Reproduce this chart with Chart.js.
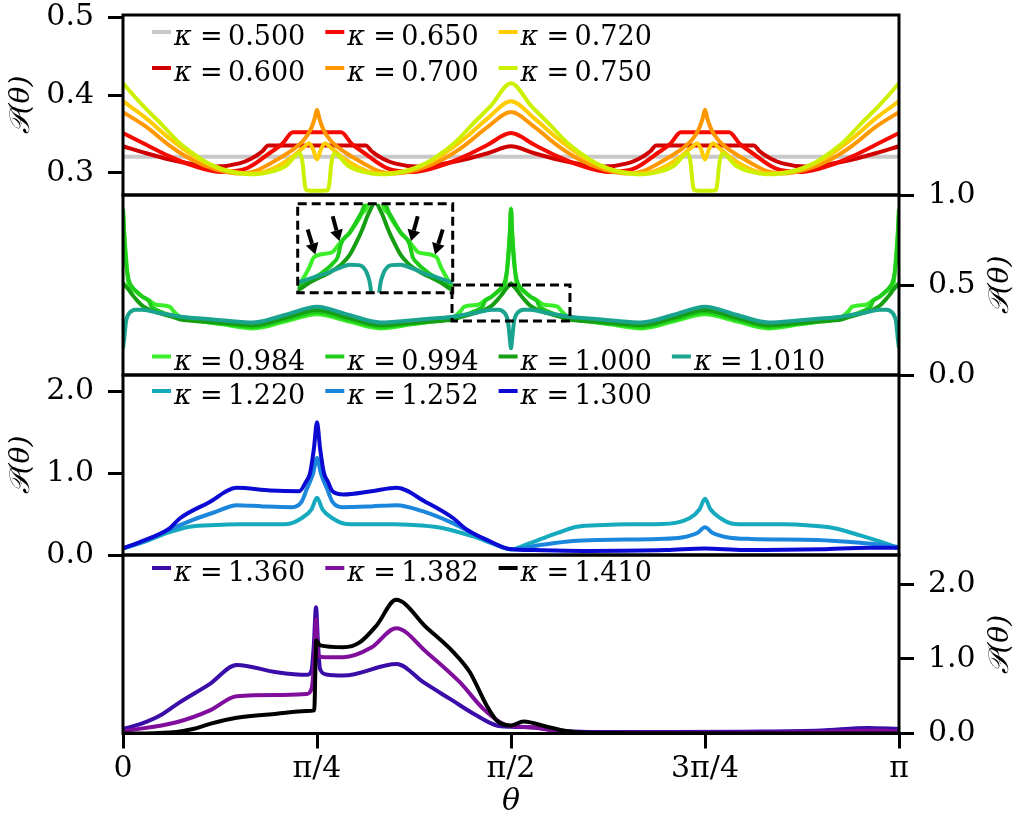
<!DOCTYPE html>
<html><head><meta charset="utf-8">
<script src="https://cdn.jsdelivr.net/npm/chart.js@4.4.1/dist/chart.umd.min.js"></script>
<style>
html,body{margin:0;padding:0;background:#fff;}
#wrap{position:relative;width:1021px;height:816px;overflow:hidden;}
canvas{position:absolute;left:0;top:0;}
</style></head><body><div id="wrap">
<canvas id="c1" width="1021" height="816"></canvas>
<canvas id="c2" width="1021" height="816"></canvas>
<canvas id="c3" width="1021" height="816"></canvas>
<canvas id="c4" width="1021" height="816"></canvas>
<canvas id="c5" width="1021" height="816"></canvas>
</div>
<script>
// ---------- axis ticks (theta in units of pi) ----------
const xTickVals = [0, 0.25, 0.5, 0.75, 1];
const xTickLabels = ['0', 'π/4', 'π/2', '3π/4', 'π'];
const p1Ticks = [0.3, 0.4, 0.5];
const p2Ticks = [0.0, 0.5, 1.0];
const p3Ticks = [0.0, 1.0, 2.0];
const p4Ticks = [0.0, 1.0, 2.0];

// ---------- panel 1 ----------
const p1Kappa = ['0.500', '0.600', '0.650', '0.700', '0.720', '0.750'];
const p1x050 = [0, 0.25, 0.5, 0.75, 1];
const p1y050 = [0.3206, 0.3206, 0.3206, 0.3206, 0.3206];
const p1x060 = [0,0.03,0.06,0.09,0.12,0.15,0.165,0.18,0.187,0.313,0.32,0.335,0.35,0.38,0.41,0.44,0.47,0.5,0.53,0.56,0.59,0.62,0.65,0.665,0.68,0.687,0.813,0.82,0.835,0.85,0.88,0.91,0.94,0.97,1];
const p1y060 = [0.334,0.325,0.317,0.311,0.308,0.312,0.318,0.328,0.335,0.335,0.328,0.318,0.312,0.308,0.311,0.317,0.325,0.334,0.325,0.317,0.311,0.308,0.312,0.318,0.328,0.335,0.335,0.328,0.318,0.312,0.308,0.311,0.317,0.325,0.334];
const p1x065 = [0,0.03,0.06,0.09,0.125,0.16,0.19,0.205,0.219,0.281,0.295,0.31,0.34,0.375,0.41,0.44,0.47,0.5,0.53,0.56,0.59,0.625,0.66,0.69,0.705,0.719,0.781,0.795,0.81,0.84,0.875,0.91,0.94,0.97,1];
const p1y065 = [0.351,0.336,0.321,0.309,0.301,0.306,0.326,0.337,0.352,0.352,0.337,0.326,0.306,0.301,0.309,0.321,0.336,0.351,0.336,0.321,0.309,0.301,0.306,0.326,0.337,0.352,0.352,0.337,0.326,0.306,0.301,0.309,0.321,0.336,0.351];
const p1x070 = [0,0.03,0.06,0.09,0.12,0.15,0.17,0.19,0.215,0.233,0.242,0.247,0.25,0.253,0.258,0.267,0.285,0.31,0.33,0.35,0.38,0.41,0.44,0.47,0.5,0.53,0.56,0.59,0.62,0.65,0.67,0.69,0.715,0.733,0.742,0.747,0.75,0.753,0.758,0.767,0.785,0.81,0.83,0.85,0.88,0.91,0.94,0.97,1];
const p1y070 = [0.378,0.359,0.335,0.316,0.304,0.299,0.302,0.312,0.327,0.342,0.356,0.370,0.381,0.370,0.356,0.342,0.327,0.312,0.302,0.299,0.304,0.316,0.335,0.359,0.378,0.359,0.335,0.316,0.304,0.299,0.302,0.312,0.327,0.342,0.356,0.370,0.381,0.370,0.356,0.342,0.327,0.312,0.302,0.299,0.304,0.316,0.335,0.359,0.378];
const p1x072 = [0,0.03,0.06,0.09,0.12,0.15,0.17,0.19,0.215,0.233,0.2397,0.245,0.25,0.255,0.2603,0.267,0.285,0.31,0.33,0.35,0.38,0.41,0.44,0.47,0.5,0.53,0.56,0.59,0.62,0.65,0.67,0.69,0.715,0.733,0.7397,0.745,0.75,0.755,0.7603,0.767,0.785,0.81,0.83,0.85,0.88,0.91,0.94,0.97,1];
const p1y072 = [0.392,0.370,0.344,0.322,0.307,0.300,0.299,0.304,0.318,0.333,0.338,0.330,0.317,0.330,0.338,0.333,0.318,0.304,0.299,0.300,0.307,0.322,0.344,0.370,0.392,0.370,0.344,0.322,0.307,0.300,0.299,0.304,0.318,0.333,0.338,0.330,0.317,0.330,0.338,0.333,0.318,0.304,0.299,0.300,0.307,0.322,0.344,0.370,0.392];
const p1x075 = [0,0.026,0.05,0.07,0.09,0.112,0.14,0.17,0.19,0.21,0.228,0.2315,0.2345,0.2367,0.25,0.2633,0.2655,0.2685,0.272,0.29,0.31,0.33,0.36,0.388,0.41,0.43,0.45,0.474,0.5,0.526,0.55,0.57,0.59,0.612,0.64,0.67,0.69,0.71,0.728,0.7315,0.7345,0.7367,0.75,0.7633,0.7655,0.7685,0.772,0.79,0.81,0.83,0.86,0.888,0.91,0.93,0.95,0.974,1];
const p1y075 = [0.415,0.386,0.362,0.341,0.325,0.311,0.301,0.298,0.301,0.309,0.325,0.312,0.283,0.2775,0.2767,0.2775,0.283,0.312,0.325,0.309,0.301,0.298,0.301,0.311,0.325,0.341,0.362,0.386,0.415,0.386,0.362,0.341,0.325,0.311,0.301,0.298,0.301,0.309,0.325,0.312,0.283,0.2775,0.2767,0.2775,0.283,0.312,0.325,0.309,0.301,0.298,0.301,0.311,0.325,0.341,0.362,0.386,0.415];

// ---------- panel 2 ----------
const p2Kappa = ['0.984', '0.994', '1.000', '1.010'];
const p2x = [0,0.0015,0.004,0.0073,0.0122,0.016,0.025,0.0335,0.0368,0.0415,0.045,0.06,0.065,0.0744,0.10,0.13,0.168,0.21,0.25,
  0.29,0.332,0.37,0.40,0.4256,0.435,0.44,0.455,0.4585,0.4632,0.4665,0.475,0.484,0.4878,0.4927,0.496,0.4985,0.5,
  0.5015,0.504,0.5073,0.5122,0.516,0.525,0.5335,0.5368,0.5415,0.545,0.56,0.565,0.5744,0.60,0.63,0.668,0.71,0.75,
  0.79,0.832,0.87,0.90,0.9256,0.935,0.94,0.955,0.9585,0.9632,0.9665,0.975,0.984,0.9878,0.9927,0.996,0.9985,1];
const p2y0984 = [0.925,0.80,0.65,0.50,0.48,0.465,0.435,0.415,0.405,0.392,0.389,0.380,0.355,0.320,0.300,0.280,0.259,0.298,0.337,
  0.298,0.259,0.280,0.300,0.320,0.355,0.380,0.389,0.392,0.405,0.415,0.435,0.465,0.48,0.50,0.65,0.80,0.925,
  0.80,0.65,0.50,0.48,0.465,0.435,0.415,0.405,0.392,0.389,0.380,0.355,0.320,0.300,0.280,0.259,0.298,0.337,
  0.298,0.259,0.280,0.300,0.320,0.355,0.380,0.389,0.392,0.405,0.415,0.435,0.465,0.48,0.50,0.65,0.80,0.925];
const p2y0994 = [0.92,0.78,0.62,0.53,0.487,0.47,0.435,0.41,0.38,0.366,0.358,0.333,0.328,0.313,0.297,0.284,0.268,0.308,0.348,
  0.308,0.268,0.284,0.297,0.313,0.328,0.333,0.358,0.366,0.38,0.41,0.435,0.47,0.487,0.53,0.62,0.78,0.92,
  0.78,0.62,0.53,0.487,0.47,0.435,0.41,0.38,0.366,0.358,0.333,0.328,0.313,0.297,0.284,0.268,0.308,0.348,
  0.308,0.268,0.284,0.297,0.313,0.328,0.333,0.358,0.366,0.38,0.41,0.435,0.47,0.487,0.53,0.62,0.78,0.92];
const p2y1000 = [0.51,0.503,0.49,0.474,0.445,0.425,0.385,0.363,0.357,0.350,0.345,0.328,0.322,0.3075,0.299,0.289,0.277,0.319,0.361,
  0.319,0.277,0.289,0.299,0.3075,0.322,0.328,0.345,0.350,0.357,0.363,0.385,0.425,0.445,0.474,0.49,0.503,0.51,
  0.503,0.49,0.474,0.445,0.425,0.385,0.363,0.357,0.350,0.345,0.328,0.322,0.3075,0.299,0.289,0.277,0.319,0.361,
  0.319,0.277,0.289,0.299,0.3075,0.322,0.328,0.345,0.350,0.357,0.363,0.385,0.425,0.445,0.474,0.49,0.503,0.51];
const p2y1010 = [0.148,0.20,0.30,0.339,0.358,0.362,0.363,0.357,0.354,0.350,0.346,0.335,0.331,0.324,0.314,0.303,0.292,0.335,0.379,
  0.335,0.292,0.303,0.314,0.324,0.331,0.335,0.346,0.350,0.354,0.357,0.363,0.362,0.358,0.339,0.30,0.20,0.148,
  0.20,0.30,0.339,0.358,0.362,0.363,0.357,0.354,0.350,0.346,0.335,0.331,0.324,0.314,0.303,0.292,0.335,0.379,
  0.335,0.292,0.303,0.314,0.324,0.331,0.335,0.346,0.350,0.354,0.357,0.363,0.362,0.358,0.339,0.30,0.20,0.148];
// zoomed region shown in the inset (data units)
const zoomBox = {x0: 0.424, x1: 0.576, y0: 0.30, y1: 0.50};
// arrows inside the inset (data units: tail -> head)
const insetArrows = [
  {x0: 0.4338, y0: 0.442, x1: 0.4413, y1: 0.386},
  {x0: 0.4583, y0: 0.472, x1: 0.4649, y1: 0.416},
  {x0: 0.5417, y0: 0.472, x1: 0.5351, y1: 0.416},
  {x0: 0.5662, y0: 0.442, x1: 0.5587, y1: 0.386}
];

// ---------- panel 3 ----------
const p3Kappa = ['1.220', '1.252', '1.300'];
const p3x1220 = [0,0.03,0.06,0.086,0.12,0.15,0.19,0.212,0.23,0.243,0.25,0.257,0.27,0.288,0.32,0.35,0.385,0.413,0.45,0.48,0.5,0.52,0.54,0.56,0.585,0.62,0.65,0.694,0.73,0.743,0.75,0.757,0.77,0.788,0.82,0.851,0.885,0.915,0.95,0.98,1];
const p3y1220 = [0.08,0.17,0.28,0.347,0.368,0.375,0.376,0.38,0.45,0.56,0.70,0.56,0.45,0.38,0.376,0.375,0.36,0.327,0.23,0.13,0.07,0.13,0.20,0.27,0.347,0.368,0.375,0.38,0.45,0.56,0.69,0.56,0.45,0.38,0.376,0.375,0.36,0.33,0.24,0.15,0.08];
const p3x1252 = [0,0.03,0.06,0.09,0.12,0.1465,0.18,0.2178,0.23,0.237,0.245,0.25,0.255,0.263,0.27,0.2826,0.32,0.3527,0.385,0.4257,0.46,0.5,0.54,0.58,0.615,0.69,0.72,0.74,0.75,0.76,0.78,0.81,0.894,0.95,1];
const p3y1252 = [0.08,0.18,0.31,0.43,0.53,0.61,0.595,0.585,0.65,0.81,1.0,1.187,1.0,0.81,0.65,0.585,0.595,0.61,0.54,0.387,0.22,0.07,0.125,0.17,0.185,0.197,0.215,0.27,0.339,0.27,0.215,0.197,0.185,0.15,0.10];
const p3x1300 = [0,0.023,0.06,0.0735,0.11,0.1465,0.19,0.227,0.236,0.241,0.246,0.25,0.254,0.259,0.264,0.27,0.284,0.32,0.3527,0.39,0.4257,0.4407,0.47,0.5,0.53,0.6,0.7,0.75,0.8,0.9,0.96,1];
const p3y1300 = [0.08,0.164,0.327,0.45,0.64,0.822,0.79,0.78,0.9,1.0,1.3,1.626,1.3,1.0,0.9,0.78,0.74,0.78,0.822,0.65,0.45,0.327,0.18,0.07,0.06,0.05,0.06,0.08,0.06,0.07,0.09,0.09];

// ---------- panel 4 ----------
const p4Kappa = ['1.360', '1.382', '1.410'];
const p4x1360 = [0,0.023,0.0477,0.0735,0.112,0.1465,0.198,0.237,0.243,0.246,0.2487,0.2513,0.2539,0.262,0.284,0.3527,0.387,0.4214,0.4558,0.4816,0.5,0.53,0.56,0.6,0.7,0.8,0.9,0.96,1];
const p4y1360 = [0.06,0.128,0.24,0.42,0.664,0.918,0.82,0.785,0.85,1.2,1.69,1.2,0.865,0.79,0.776,0.93,0.687,0.463,0.24,0.107,0.09,0.08,0.04,0.02,0.02,0.025,0.04,0.075,0.06];
const p4x1382 = [0,0.069,0.112,0.1465,0.2,0.2367,0.243,0.247,0.2487,0.2505,0.2513,0.26,0.284,0.32,0.352,0.391,0.434,0.4643,0.49,0.5,0.53,0.56,0.6,0.8,0.9,0.97,1];
const p4y1382 = [0.03,0.151,0.31,0.50,0.515,0.53,0.6,1.1,1.53,1.2,1.04,1.02,1.02,1.15,1.41,1.09,0.687,0.33,0.128,0.10,0.08,0.03,0.01,0.01,0.02,0.04,0.03];
const p4x1410 = [0,0.04,0.069,0.09,0.112,0.1465,0.198,0.2367,0.2465,0.2478,0.249,0.254,0.284,0.305,0.327,0.352,0.391,0.4257,0.447,0.4686,0.4815,0.5,0.516,0.55,0.58,0.65,1];
const p4y1410 = [0.0,0.005,0.02,0.06,0.128,0.21,0.265,0.30,0.31,0.8,1.245,1.18,1.155,1.22,1.45,1.79,1.42,1.09,0.82,0.375,0.174,0.107,0.16,0.08,0.02,0.005,0.0];

// ---------- helpers ----------
const SERIF = '"DejaVu Serif", "Liberation Serif", serif';
const LW = 4;
function series(xs, ys, label, color, i, n, extra) {
  return Object.assign({
    label: label,
    data: xs.map((x, k) => ({x: x, y: ys[k]})),
    borderColor: color, backgroundColor: color, borderWidth: LW,
    pointRadius: 0, fill: false, cubicInterpolationMode: 'monotone',
    order: n - 1 - i
  }, extra || {});
}

function drawLegend(ctx, datasets, L) {
  const n = datasets.length;
  const nrows = Math.ceil(n / L.ncol);
  datasets.forEach((ds, i) => {
    const col = Math.floor(i / nrows), row = i % nrows;
    const hx = L.x0 + col * L.dx, hy = L.y0 + row * L.dy;
    ctx.save();
    ctx.strokeStyle = ds.borderColor; ctx.lineWidth = LW; ctx.lineCap = 'butt';
    ctx.beginPath(); ctx.moveTo(hx, hy); ctx.lineTo(hx + 19, hy); ctx.stroke();
    ctx.fillStyle = '#000'; ctx.textAlign = 'left'; ctx.textBaseline = 'alphabetic';
    ctx.font = 'italic 27px ' + SERIF; ctx.fillText('κ', hx + 22, hy + 13);
    ctx.font = '27px ' + SERIF;
    ctx.fillText('=', hx + 48, hy + 13);
    ctx.fillText(ds.label, hx + 76, hy + 13);
    ctx.restore();
  });
}

function drawSideTitle(ctx, x, y) {
  ctx.save();
  ctx.translate(x, y); ctx.rotate(-Math.PI / 2);
  ctx.fillStyle = '#000'; ctx.textAlign = 'center'; ctx.textBaseline = 'middle';
  ctx.font = 'italic 28px ' + SERIF;
  ctx.fillText('𝒫(θ)', 0, 0);
  ctx.restore();
}

const decoPlugin = {
  id: 'deco',
  afterDraw(chart) {
    const o = chart.options.plugins.deco;
    const ctx = chart.ctx, a = chart.chartArea;
    if (o.zoomBox) {
      const xs = chart.scales.x, ys = chart.scales.y;
      ctx.save(); ctx.strokeStyle = '#000'; ctx.lineWidth = 3; ctx.setLineDash([9, 5]);
      const X0 = xs.getPixelForValue(o.zoomBox.x0), X1 = xs.getPixelForValue(o.zoomBox.x1);
      const Y0 = ys.getPixelForValue(o.zoomBox.y0), Y1 = ys.getPixelForValue(o.zoomBox.y1);
      ctx.strokeRect(X0, Y1, X1 - X0, Y0 - Y1);
      ctx.restore();
    }
    ctx.save(); ctx.strokeStyle = '#000'; ctx.lineWidth = 3;
    ctx.strokeRect(a.left, a.top, a.right - a.left, a.bottom - a.top);
    ctx.restore();
    if (o.legend) drawLegend(ctx, chart.data.datasets, o.legend);
    if (o.titleX) drawSideTitle(ctx, o.titleX, (a.top + a.bottom) / 2);
    if (o.xTitle) {
      ctx.save(); ctx.fillStyle = '#000'; ctx.textAlign = 'center'; ctx.textBaseline = 'middle';
      ctx.font = 'italic 30px ' + SERIF;
      ctx.fillText('θ', (a.left + a.right) / 2, 802);
      ctx.restore();
    }
  }
};

function makePanel(id, c) {
  const left = c.side === 'left';
  const tickFont = {family: SERIF, size: 30, lineHeight: 1};
  const grid = {drawOnChartArea: false, drawTicks: true, tickLength: 15, lineWidth: 3, color: '#000'};
  return new Chart(document.getElementById(id), {
    type: 'line',
    data: {datasets: c.datasets},
    options: {
      responsive: false, animation: false, events: [],
      layout: {padding: {left: left ? 0 : 123, right: left ? 122 : 0, top: c.top, bottom: c.xAxis ? 0 : 816 - c.bottom}},
      plugins: {legend: {display: false}, tooltip: {enabled: false},
        deco: {legend: c.legend, titleX: c.titleX, xTitle: c.xAxis, zoomBox: c.zoomBox}},
      scales: {
        x: {type: 'linear', min: 0, max: 1, display: !!c.xAxis, position: 'bottom',
          grid: grid, border: {display: false},
          ticks: {font: tickFont, color: '#000', padding: 6, maxRotation: 0, autoSkip: false,
            callback: (v) => xTickLabels[xTickVals.indexOf(v)]},
          afterBuildTicks: s => { s.ticks = xTickVals.map(v => ({value: v})); },
          afterFit: s => { if (c.xAxis) { s.height = 816 - c.bottom; } s.paddingLeft = 0; s.paddingRight = 0; }
        },
        y: {type: 'linear', position: c.side, min: c.yMin, max: c.yMax,
          grid: grid, border: {display: false},
          ticks: {font: tickFont, color: '#000', padding: 14, autoSkip: false,
            callback: (v) => Number(v).toFixed(1)},
          afterBuildTicks: s => { s.ticks = c.yTicks.map(v => ({value: v})); },
          afterFit: s => { s.width = left ? 123 : 122; s.paddingTop = 0; s.paddingBottom = 0; }
        }
      }
    },
    plugins: [decoPlugin]
  });
}

const legendCols = {x0: 152, dx: 173.3};

// panel 1
const p1Colors = ['#c8c8c8', '#d00000', '#f50a00', '#ff9800', '#ffcc00', '#cdf000'];
const p1Sets = [[p1x050, p1y050], [p1x060, p1y060], [p1x065, p1y065], [p1x070, p1y070], [p1x072, p1y072], [p1x075, p1y075]]
  .map((s, i, arr) => series(s[0], s[1], p1Kappa[i], p1Colors[i], i, arr.length));
makePanel('c1', {side: 'left', top: 15, bottom: 195, yMin: 0.2713, yMax: 0.503, yTicks: p1Ticks,
  datasets: p1Sets, titleX: 22, legend: {ncol: 3, x0: legendCols.x0, dx: legendCols.dx, y0: 32, dy: 36}});

// panel 2
const p2Colors = ['#3cee2a', '#1fcc1a', '#159e12', '#1aa38f'];
const p2Ys = [p2y0984, p2y0994, p2y1000, p2y1010];
makePanel('c2', {side: 'right', top: 195, bottom: 375, yMin: 0, yMax: 1.0, yTicks: p2Ticks,
  datasets: p2Ys.map((ys, i) => series(p2x, ys, p2Kappa[i], p2Colors[i], i, 4)),
  titleX: 1001, zoomBox: zoomBox, legend: {ncol: 4, x0: legendCols.x0, dx: legendCols.dx, y0: 356.5, dy: 36}});

// panel 3
const p3Colors = ['#16aabf', '#1a86dc', '#0a0ad2'];
const p3Sets = [[p3x1220, p3y1220], [p3x1252, p3y1252], [p3x1300, p3y1300]]
  .map((s, i) => series(s[0], s[1], p3Kappa[i], p3Colors[i], i, 3));
makePanel('c3', {side: 'left', top: 375, bottom: 555, yMin: 0, yMax: 2.204, yTicks: p3Ticks,
  datasets: p3Sets, titleX: 22, legend: {ncol: 3, x0: legendCols.x0, dx: legendCols.dx, y0: 391, dy: 36}});

// panel 4
const p4Colors = ['#3a0ca8', '#800d9c', '#000000'];
const p4Sets = [[p4x1360, p4y1360], [p4x1382, p4y1382], [p4x1410, p4y1410]]
  .map((s, i) => series(s[0], s[1], p4Kappa[i], p4Colors[i], i, 3));
makePanel('c4', {side: 'right', top: 555, bottom: 733.5, yMin: 0, yMax: 2.39, yTicks: p4Ticks,
  datasets: p4Sets, titleX: 1001, xAxis: true, legend: {ncol: 3, x0: legendCols.x0, dx: legendCols.dx, y0: 568, dy: 36}});

// inset (zoom of panel 2 around pi/2)
const insetPlugin = {
  id: 'insetDeco',
  beforeDatasetsDraw(chart) {
    const a = chart.chartArea, ctx = chart.ctx;
    ctx.save(); ctx.fillStyle = '#fff'; ctx.fillRect(a.left, a.top, a.right - a.left, a.bottom - a.top); ctx.restore();
  },
  afterDraw(chart) {
    const a = chart.chartArea, ctx = chart.ctx, xs = chart.scales.x, ys = chart.scales.y;
    ctx.save(); ctx.strokeStyle = '#000'; ctx.lineWidth = 3; ctx.setLineDash([9, 5]);
    ctx.strokeRect(a.left, a.top, a.right - a.left, a.bottom - a.top);
    ctx.restore();
    insetArrows.forEach(ar => {
      const x0 = xs.getPixelForValue(ar.x0), y0 = ys.getPixelForValue(ar.y0);
      const x1 = xs.getPixelForValue(ar.x1), y1 = ys.getPixelForValue(ar.y1);
      const ang = Math.atan2(y1 - y0, x1 - x0), hl = 11, hw = 6.5;
      const bx = x1 - hl * Math.cos(ang), by = y1 - hl * Math.sin(ang);
      ctx.save(); ctx.strokeStyle = '#000'; ctx.fillStyle = '#000'; ctx.lineWidth = 4;
      ctx.beginPath(); ctx.moveTo(x0, y0); ctx.lineTo(bx, by); ctx.stroke();
      ctx.beginPath(); ctx.moveTo(x1, y1);
      ctx.lineTo(bx + hw * Math.sin(ang), by - hw * Math.cos(ang));
      ctx.lineTo(bx - hw * Math.sin(ang), by + hw * Math.cos(ang));
      ctx.closePath(); ctx.fill();
      ctx.restore();
    });
  }
};
new Chart(document.getElementById('c5'), {
  type: 'line',
  data: {datasets: p2Ys.map((ys, i) => series(p2x, ys, p2Kappa[i], p2Colors[i], i, 4, {clip: 0}))},
  options: {
    responsive: false, animation: false, events: [],
    layout: {padding: {left: 297.7, right: 1021 - 452.7, top: 203.7, bottom: 816 - 292.7}},
    plugins: {legend: {display: false}, tooltip: {enabled: false}},
    scales: {
      x: {type: 'linear', display: false, min: zoomBox.x0, max: zoomBox.x1},
      y: {type: 'linear', display: false, min: zoomBox.y0, max: zoomBox.y1}
    }
  },
  plugins: [insetPlugin]
});
</script></body></html>
